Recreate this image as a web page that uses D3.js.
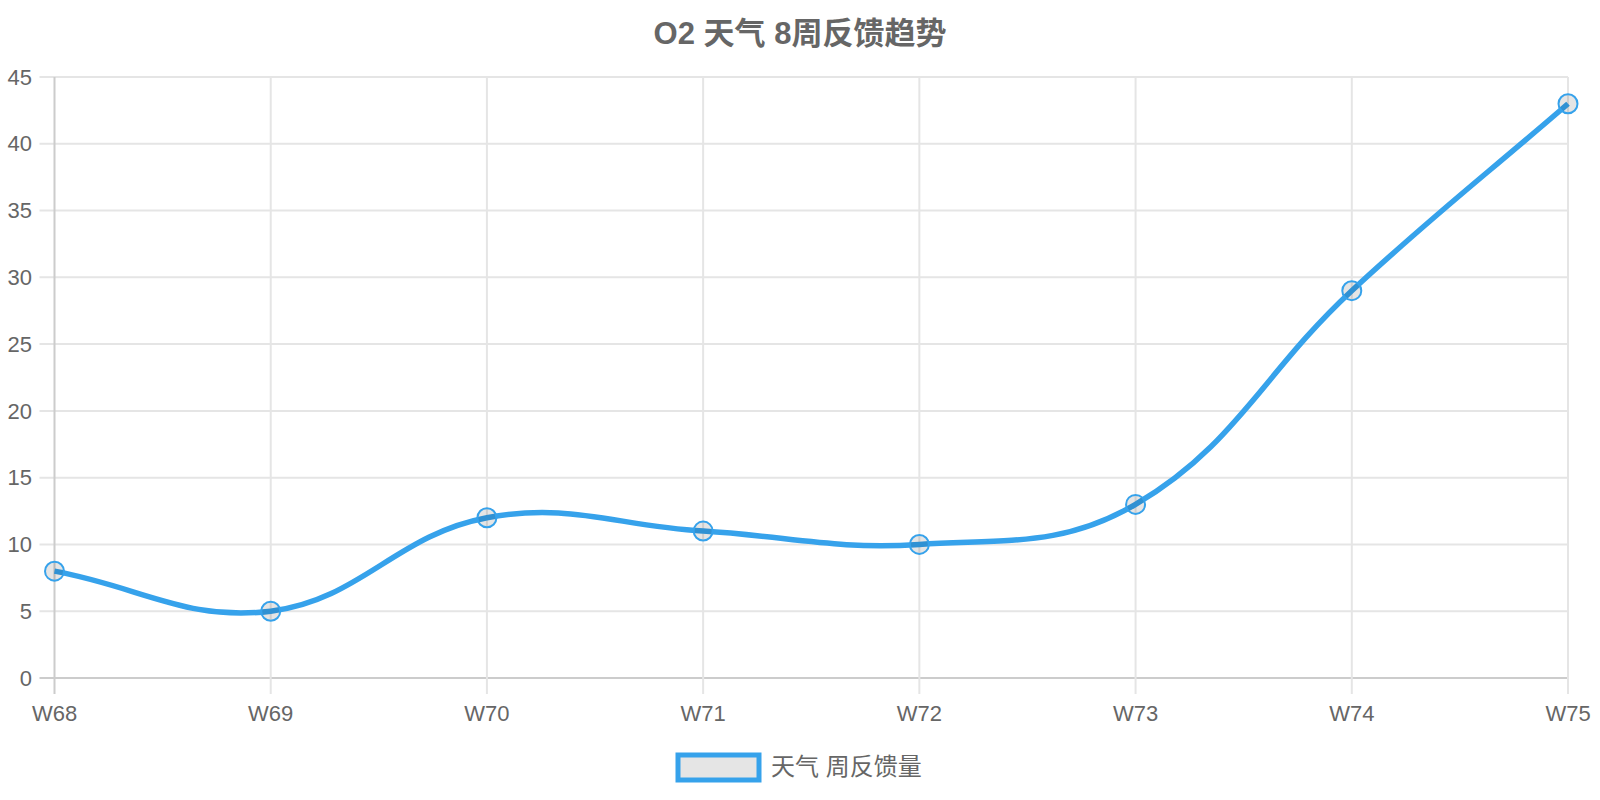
<!DOCTYPE html>
<html>
<head>
<meta charset="utf-8">
<script src="https://cdn.jsdelivr.net/npm/d3@7"></script>
<style>
  html, body { margin: 0; padding: 0; background: #fff; }
  svg text { font-family: "Liberation Sans", Arial, "Noto Sans CJK SC", sans-serif; fill: #666; }
</style>
</head>
<body>
<div id="chart"></div>
<script>
// chart data
var weeks = ["W68", "W69", "W70", "W71", "W72", "W73", "W74", "W75"];
var counts = [8, 5, 12, 11, 10, 13, 29, 43];
var yTicks = [0, 5, 10, 15, 20, 25, 30, 35, 40, 45];
var titleText = "O2 天气 8周反馈趋势";
var seriesName = "天气 周反馈量";

var width = 1600,
    height = 800;
var margin = {top: 77, right: 32, bottom: 122, left: 54.5};

var svg = d3.select("#chart")
    .append("svg")
    .attr("width", width)
    .attr("height", height);

var x = d3.scalePoint()
    .domain(weeks)
    .range([margin.left, width - margin.right]);

var y = d3.scaleLinear()
    .domain([0, 45])
    .range([height - margin.bottom, margin.top]);

var blue = "#36a2eb";

// grid lines
var grid = svg.append("g");
grid.selectAll(".hgrid")
    .data(yTicks)
    .join("line")
    .attr("x1", margin.left - 15)
    .attr("x2", width - margin.right)
    .attr("y1", d => y(d))
    .attr("y2", d => y(d))
    .attr("stroke", d => d === 0 ? "#cccccc" : "#e5e5e5")
    .attr("stroke-width", 2);

grid.selectAll(".vgrid")
    .data(weeks)
    .join("line")
    .attr("x1", d => x(d))
    .attr("x2", d => x(d))
    .attr("y1", margin.top)
    .attr("y2", height - margin.bottom + 16)
    .attr("stroke", (d, i) => i === 0 ? "#cccccc" : "#e5e5e5")
    .attr("stroke-width", 2);

// axis labels
svg.append("g").selectAll("text")
    .data(yTicks)
    .join("text")
    .attr("x", 32)
    .attr("y", d => y(d))
    .attr("dy", "0.35em")
    .style("text-anchor", "end")
    .style("font-size", "22px")
    .text(d => d);

svg.append("g").selectAll("text")
    .data(weeks)
    .join("text")
    .attr("x", d => x(d))
    .attr("y", 721)
    .style("text-anchor", "middle")
    .style("font-size", "22px")
    .text(d => d);

// title
svg.append("text")
    .attr("x", width / 2)
    .attr("y", 44)
    .style("text-anchor", "middle")
    .style("font-size", "31px")
    .style("font-weight", "bold")
    .text(titleText);

// spline like chart.js (tension 0.4)
var pts = counts.map((v, i) => ({x: x(weeks[i]), y: y(v)}));

function controlPoints(prev, cur, next, t) {
  var d01 = Math.hypot(cur.x - prev.x, cur.y - prev.y);
  var d12 = Math.hypot(next.x - cur.x, next.y - cur.y);
  var s01 = d01 / (d01 + d12) || 0;
  var s12 = d12 / (d01 + d12) || 0;
  var fa = t * s01, fb = t * s12;
  return {
    prev: {x: cur.x - fa * (next.x - prev.x), y: cur.y - fa * (next.y - prev.y)},
    next: {x: cur.x + fb * (next.x - prev.x), y: cur.y + fb * (next.y - prev.y)}
  };
}

function cap(p) {
  p.x = Math.max(margin.left, Math.min(width - margin.right, p.x));
  p.y = Math.max(margin.top, Math.min(height - margin.bottom, p.y));
}

var ctrl = pts.map(function(p, i) {
  var c = controlPoints(pts[i - 1] || p, p, pts[i + 1] || p, 0.4);
  cap(c.prev);
  cap(c.next);
  return c;
});

var path = d3.path();
path.moveTo(pts[0].x, pts[0].y);
for (var i = 1; i < pts.length; i++) {
  path.bezierCurveTo(ctrl[i - 1].next.x, ctrl[i - 1].next.y,
                     ctrl[i].prev.x, ctrl[i].prev.y,
                     pts[i].x, pts[i].y);
}

svg.append("path")
    .attr("d", path.toString())
    .attr("fill", "none")
    .attr("stroke", blue)
    .attr("stroke-width", 5.5);

svg.append("g").selectAll("circle")
    .data(counts)
    .join("circle")
    .attr("cx", (d, i) => x(weeks[i]))
    .attr("cy", d => y(d))
    .attr("r", 9.5)
    .attr("fill", "rgba(0,0,0,0.1)")
    .attr("stroke", blue)
    .attr("stroke-width", 2);

// legend
var legend = svg.append("g");
legend.append("rect")
    .attr("x", 678)
    .attr("y", 755)
    .attr("width", 81)
    .attr("height", 25)
    .attr("fill", "rgba(0,0,0,0.1)")
    .attr("stroke", blue)
    .attr("stroke-width", 5);

legend.append("text")
    .attr("x", 771)
    .attr("y", 767)
    .attr("dy", "0.35em")
    .style("font-size", "24px")
    .text(seriesName);
</script>
</body>
</html>
